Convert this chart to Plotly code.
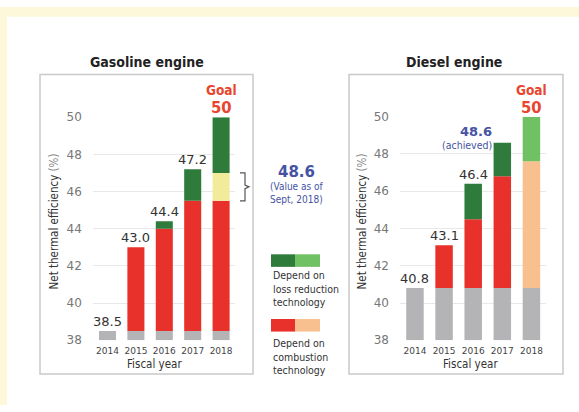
import plotly.graph_objects as go

# ---------------- data ----------------
years = ["2014", "2015", "2016", "2017", "2018"]

# Gasoline engine (tops of each stacked segment, % net thermal efficiency)
gas_gray = [38.5, 38.5, 38.5, 38.5, 38.5]
gas_comb = [None, 43.0, 44.0, 45.5, 45.5]      # combustion technology (red)
gas_sept = [None, None, None, None, 47.0]      # value as of Sept 2018 (yellow)
gas_loss = [None, None, 44.4, 47.2, 50.0]      # loss reduction technology (green)
gas_labels = ["38.5", "43.0", "44.4", "47.2", None]
gas_achieved = 48.6

# Diesel engine
die_gray = [40.8, 40.8, 40.8, 40.8, 40.8]
die_comb = [None, 43.1, 44.5, 46.8, 47.6]
die_loss = [None, None, 46.4, 48.6, 50.0]
die_labels = ["40.8", "43.1", "46.4", None, None]

goal = 50

# ---------------- styles ----------------
W, H = 579, 412
GRAY = "#b4b4b6"
RED = "#e8312a"
PEACH = "#f8bf8f"
DGREEN = "#2f7b3b"
LGREEN = "#6fc164"
YELLOW = "#f3eb9c"
BLUE = "#4653a3"
GOALRED = "#e9452f"
NARROW = "DejaVu Sans Condensed, Liberation Sans Narrow, sans-serif"
VERD = "DejaVu Sans, Verdana, sans-serif"
BASE = 38


def px(x):
    return x / W


def py(y):
    return 1 - y / H


fig = go.Figure()


def seg(xaxis, yaxis, bottoms, tops, colors):
    xs, ys, bs, cs = [], [], [], []
    for i, (b, t) in enumerate(zip(bottoms, tops)):
        if t is None or b is None:
            continue
        xs.append(years[i])
        ys.append(t - b)
        bs.append(b)
        cs.append(colors[i] if isinstance(colors, list) else colors)
    fig.add_trace(go.Bar(x=xs, y=ys, base=bs, marker=dict(color=cs, line=dict(width=0)),
                         width=0.6, xaxis=xaxis, yaxis=yaxis, showlegend=False,
                         hoverinfo="skip", opacity=1))


# gasoline
seg("x", "y", [BASE] * 5, gas_gray, GRAY)
seg("x", "y", gas_gray, gas_comb, RED)
seg("x", "y", gas_comb, gas_sept, YELLOW)
gas_loss_base = [s if s is not None else c for s, c in zip(gas_sept, gas_comb)]
seg("x", "y", gas_loss_base, gas_loss, DGREEN)

# diesel
seg("x2", "y2", [BASE] * 5, die_gray, GRAY)
seg("x2", "y2", die_gray, die_comb, [RED, RED, RED, RED, PEACH])
seg("x2", "y2", die_comb, die_loss, [DGREEN, DGREEN, DGREEN, DGREEN, LGREEN])

ann = []


def tops(*lists):
    out = []
    for i in range(5):
        vals = [l[i] for l in lists if l[i] is not None]
        out.append(max(vals))
    return out


for xr, yr, labels, tp in [("x", "y", gas_labels, tops(gas_gray, gas_comb, gas_sept, gas_loss)),
                            ("x2", "y2", die_labels, tops(die_gray, die_comb, die_loss))]:
    for i, lab in enumerate(labels):
        if lab is None:
            continue
        ann.append(dict(x=i, y=tp[i], xref=xr, yref=yr, text=lab, showarrow=False,
                        yanchor="bottom", yshift=0, font=dict(family=VERD, size=13, color="#333333")))


def txt(x, y, text, size, color, family=NARROW, xanchor="center", bold=False, align="center"):
    t = f"<b>{text}</b>" if bold else text
    ann.append(dict(x=px(x), y=py(y), xref="paper", yref="paper", text=t, showarrow=False,
                    xanchor=xanchor, yanchor="middle", align=align,
                    font=dict(family=family, size=size, color=color)))


# titles
txt(147, 57, "Gasoline engine", 14, "#222222", bold=True)
txt(454, 57, "Diesel engine", 14, "#222222", bold=True)

# goal labels
for cx in (221, 531):
    txt(cx + 0.5, 95.5, f"Goal<br><span style='font-size:16.5px'>{goal}</span>", 13.5, GOALRED, bold=True)

# diesel achieved
txt(476, 129, f"{die_loss[3]:.1f}", 13, BLUE, family=VERD, bold=True)
txt(467, 143, "(achieved)", 10.5, BLUE)

# gasoline Sept 2018 value
txt(296, 170.5, f"{gas_achieved:.1f}", 15, BLUE, family=VERD, bold=True)
txt(297, 192.5, "(Value as of<br>Sept, 2018)", 10, BLUE)

# y-axis titles
for cx in (54, 362):
    ann.append(dict(x=px(cx), y=py(222), xref="paper", yref="paper",
                    text="Net thermal efficiency <span style='color:#888'>(%)</span>",
                    showarrow=False, textangle=-90, xanchor="center", yanchor="middle",
                    font=dict(family=NARROW, size=11.5, color="#333333")))

# x-axis titles
txt(154, 370, "Fiscal year", 11.5, "#333333")
txt(470, 370, "Fiscal year", 11.5, "#333333")

# legend text
txt(271, 291.5, "Depend on<br>loss reduction<br>technology", 10.5, "#333333", xanchor="left", align="left")
txt(271, 361.5, "Depend on<br>combustion<br>technology", 10.5, "#333333", xanchor="left", align="left")

shapes = []
# cream frame
shapes.append(dict(type="rect", xref="paper", yref="paper", x0=0, x1=1, y0=py(10), y1=1,
                   fillcolor="#fdf8da", line=dict(width=0), layer="below"))
shapes.append(dict(type="rect", xref="paper", yref="paper", x0=0, x1=px(7), y0=0, y1=1,
                   fillcolor="#fdf8da", line=dict(width=0), layer="below"))
# panel boxes
for x0, x1 in ((40, 253), (349, 563)):
    shapes.append(dict(type="rect", xref="paper", yref="paper", x0=px(x0), x1=px(x1),
                       y0=py(380), y1=py(70), line=dict(color="#c9c9c9", width=1.5),
                       fillcolor="rgba(0,0,0,0)", layer="below"))
# legend swatches
for (y0, y1), (c1, c2) in (((256, 269), (DGREEN, LGREEN)), ((323, 336), (RED, PEACH))):
    shapes.append(dict(type="rect", xref="paper", yref="paper", x0=px(271), x1=px(295),
                       y0=py(y1), y1=py(y0), fillcolor=c1, line=dict(width=0)))
    shapes.append(dict(type="rect", xref="paper", yref="paper", x0=px(295), x1=px(320),
                       y0=py(y1), y1=py(y0), fillcolor=c2, line=dict(width=0)))
# bracket for Sept 2018 value
bt, bb = gas_sept[4], gas_comb[4]
bm = (bt + bb) / 2
shapes.append(dict(type="path", xref="paper", yref="y",
                   path=f"M {px(240)},{bt} L {px(245)},{bt} L {px(245)},{bm + 0.1} L {px(249)},{bm} "
                        f"L {px(245)},{bm - 0.1} L {px(245)},{bb} L {px(240)},{bb}",
                   line=dict(color="#555555", width=1.2)))

axis_common = dict(showline=False, zeroline=False, fixedrange=True)
xcommon = dict(axis_common, type="category", categoryorder="array", categoryarray=years,
               range=[-0.5, 4.5], showgrid=False, ticks="outside", ticklen=2,
               tickcolor="rgba(0,0,0,0)", tickfont=dict(family=VERD, size=9, color="#444444"))
ycommon = dict(axis_common, range=[38, 50], tick0=38, dtick=2, showgrid=True,
               gridcolor="#e8e8e8", gridwidth=1, ticks="outside", ticklen=8,
               tickcolor="rgba(0,0,0,0)", tickfont=dict(family=VERD, size=12, color="#777777"))

fig.update_layout(
    width=W, height=H, margin=dict(l=0, r=0, t=0, b=0),
    paper_bgcolor="white", plot_bgcolor="rgba(0,0,0,0)",
    barmode="overlay", bargap=0.4, showlegend=False, hovermode=False,
    xaxis=dict(xcommon, domain=[px(93.3), px(235.3)], anchor="y"),
    yaxis=dict(ycommon, domain=[py(345), py(114)], anchor="x"),
    xaxis2=dict(xcommon, domain=[px(400.4), px(546)], anchor="y2"),
    yaxis2=dict(ycommon, domain=[py(345), py(113.5)], anchor="x2"),
    annotations=ann, shapes=shapes,
)

fig.write_html("out.html", config={"displayModeBar": False})
